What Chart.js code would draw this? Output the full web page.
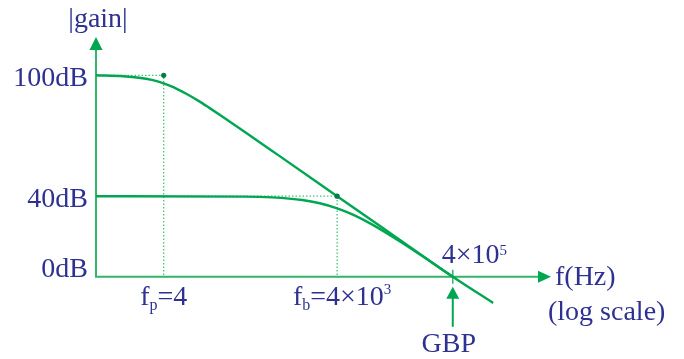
<!DOCTYPE html>
<html><head><meta charset="utf-8">
<script src="https://cdn.jsdelivr.net/npm/chart.js@4"></script>
<style>html,body{margin:0;padding:0;background:#fff}</style>
</head><body>
<canvas id="c" width="684" height="359"></canvas>
<script>
// Open-loop response: frequency (Hz) and gain (dB)
const openLoopFreq = [0.27, 0.8, 1.5, 2.5, 4, 6, 10, 16, 25, 40, 100, 400, 4000, 40000, 400000, 2000000];
const openLoopGain = [100, 99.5, 98.8, 97.7, 96, 94, 90.7, 87.3, 83.7, 79.8, 72, 60, 40, 20, 0, -13];
// Closed-loop response
const closedLoopFreq = [0.27, 100, 300, 1000, 2000, 4000, 8000, 16000, 53000, 150000, 400000];
const closedLoopGain = [40, 39.8, 39.4, 38.1, 36.5, 34, 30.5, 26, 16.9, 8.3, 0];
// Corner points: f_p and f_b
const cornerFreq = [4, 4000];
const cornerGain = [100, 40];
// Gain-bandwidth product frequency
const gbpFreq = 400000;
const gainTicks = [0, 40, 100];
const gainTickLabels = ['0dB', '40dB', '100dB'];

const FMIN = 0.27, FMAX = 2e7;
const TEXT = '#2e3192';
const CURVE = 'rgb(0,166,81)';
const AXIS = 'rgb(50,180,105)';
const GUIDE = 'rgb(70,195,125)';
const SERIF = '"Liberation Serif", "Times New Roman", serif';

const pts = (xs, ys) => xs.map((x, i) => ({x, y: ys[i]}));

// dotted guides from the axes to each corner point
const guides = cornerFreq.map((f, i) => [
  {x: FMIN, y: cornerGain[i]}, {x: f, y: cornerGain[i]}, {x: f, y: 0}
]);

function drawRich(ctx, parts, x, y, align) {
  let w = 0;
  parts.forEach(p => { ctx.font = p.size + 'px ' + SERIF; p.w = ctx.measureText(p.t).width; w += p.w; });
  let cx = align === 'center' ? x - w / 2 : align === 'right' ? x - w : x;
  ctx.textAlign = 'left';
  ctx.textBaseline = 'alphabetic';
  parts.forEach(p => {
    ctx.font = p.size + 'px ' + SERIF;
    ctx.fillText(p.t, cx, y + (p.dy || 0));
    cx += p.w;
  });
}

function arrowHead(ctx, tipX, tipY, dir, len, half) {
  ctx.beginPath();
  if (dir === 'up') {
    ctx.moveTo(tipX, tipY); ctx.lineTo(tipX - half, tipY + len); ctx.lineTo(tipX + half, tipY + len);
  } else {
    ctx.moveTo(tipX, tipY); ctx.lineTo(tipX - len, tipY - half); ctx.lineTo(tipX - len, tipY + half);
  }
  ctx.closePath();
  ctx.fill();
}

const axesPlugin = {
  id: 'bodeAxes',
  beforeDatasetsDraw(chart) {
    const {ctx, chartArea: a, scales: {x, y}} = chart;
    const y0 = y.getPixelForValue(0);
    ctx.save();
    ctx.strokeStyle = AXIS; ctx.fillStyle = CURVE;
    ctx.lineWidth = 2;
    ctx.beginPath();
    ctx.moveTo(a.left, y0); ctx.lineTo(a.left, a.top + 12);
    ctx.moveTo(a.left - 1, y0); ctx.lineTo(a.right - 12, y0);
    ctx.stroke();
    arrowHead(ctx, a.left, a.top, 'up', 13, 6.5);
    arrowHead(ctx, a.right, y0, 'right', 13, 6);
    // GBP tick on the frequency axis
    const gx = x.getPixelForValue(gbpFreq);
    ctx.lineWidth = 1.5;
    ctx.beginPath(); ctx.moveTo(gx, y0 - 7); ctx.lineTo(gx, y0 + 7); ctx.stroke();
    ctx.restore();
  },
  afterDraw(chart) {
    const {ctx, chartArea: a, scales: {x, y}} = chart;
    const y0 = y.getPixelForValue(0);
    const gx = x.getPixelForValue(gbpFreq);
    ctx.save();
    // GBP arrow
    ctx.strokeStyle = CURVE; ctx.fillStyle = CURVE;
    ctx.lineWidth = 2;
    ctx.beginPath(); ctx.moveTo(gx, y0 + 50); ctx.lineTo(gx, y0 + 20); ctx.stroke();
    arrowHead(ctx, gx, y0 + 10, 'up', 12, 6.5);

    ctx.fillStyle = TEXT;
    // axis titles
    drawRich(ctx, [{t: '|gain|', size: 28}], a.left + 2, 27, 'center');
    drawRich(ctx, [{t: 'f(Hz)', size: 28}], a.right + 4, y0 + 8, 'left');
    drawRich(ctx, [{t: '(log scale)', size: 28}], a.right - 3, y0 + 43, 'left');
    // gain ticks
    gainTicks.forEach((v, i) => {
      const py = Math.min(y.getPixelForValue(v) + 11, y0);
      drawRich(ctx, [{t: gainTickLabels[i], size: 28}], a.left - 8, py, 'right');
    });
    // frequency labels
    const fp = x.getPixelForValue(cornerFreq[0]);
    drawRich(ctx, [{t: 'f', size: 28}, {t: 'p', size: 16, dy: 5}, {t: '=4', size: 28}], fp, y0 + 28, 'center');
    const fb = x.getPixelForValue(cornerFreq[1]);
    drawRich(ctx, [{t: 'f', size: 28}, {t: 'b', size: 16, dy: 5}, {t: '=4×10', size: 28}, {t: '3', size: 15, dy: -11}], fb + 5, y0 + 28, 'center');
    drawRich(ctx, [{t: '4×10', size: 28}, {t: '5', size: 15, dy: -8}], gx - 11, y0 - 14, 'left');
    drawRich(ctx, [{t: 'GBP', size: 28}], gx - 4, y0 + 75, 'center');
    ctx.restore();
  }
};

new Chart(document.getElementById('c'), {
  type: 'scatter',
  data: {
    datasets: [
      {data: pts(cornerFreq, cornerGain), pointRadius: 2.6, pointBackgroundColor: 'rgb(0,125,70)',
       pointBorderWidth: 0, showLine: false, order: 0},
      {data: pts(openLoopFreq, openLoopGain), showLine: true, borderColor: CURVE, borderWidth: 2.4,
       pointRadius: 0, cubicInterpolationMode: 'monotone', order: 1},
      {data: pts(closedLoopFreq, closedLoopGain), showLine: true, borderColor: CURVE, borderWidth: 2.4,
       pointRadius: 0, cubicInterpolationMode: 'monotone', order: 2},
      ...guides.map(g => ({data: g, showLine: true, borderColor: GUIDE, borderWidth: 1.3,
        borderDash: [1.5, 2], pointRadius: 0, order: 3}))
    ]
  },
  options: {
    responsive: false, animation: false, devicePixelRatio: 1,
    layout: {padding: {left: 96, right: 133, top: 37, bottom: 52}},
    plugins: {legend: {display: false}, tooltip: {enabled: false}},
    scales: {
      x: {type: 'logarithmic', min: FMIN, max: FMAX, display: false},
      y: {type: 'linear', min: -15, max: 119, display: false}
    }
  },
  plugins: [axesPlugin]
});
</script>
</body></html>
